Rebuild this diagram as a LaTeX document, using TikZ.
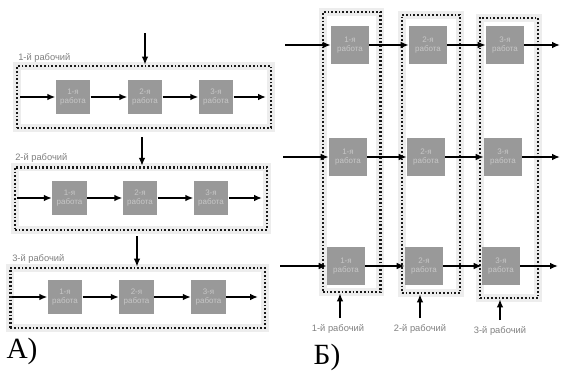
\documentclass[tikz,border=0pt]{standalone}
\usepackage{fontspec}
\setmainfont{Liberation Sans}
\newfontfamily\serifbig{Liberation Serif}
\usetikzlibrary{arrows.meta}
\begin{document}
\begin{tikzpicture}[x=0.75pt,y=-0.75pt,
  job/.style={fill=black!40, text=black!22, minimum width=26pt, minimum height=26pt,
    inner sep=0pt, align=center, font=\fontsize{6}{6.5}\selectfont},
  bjob/.style={job, minimum width=28.5pt, minimum height=29pt},
  frame/.style={draw=black!90, line width=2pt, dash pattern=on 1.3pt off 1.5pt,
    preaction={draw=black!7, line width=6pt, solid}, minimum width=#1},
  lab/.style={text=black!50, font=\fontsize{7}{8}\selectfont, inner sep=0pt},
  arr/.style={line width=1.2pt, -{Latex[length=6pt,width=5pt]}},
  big/.style={font=\serifbig\fontsize{22}{24}\selectfont, inner sep=0pt}]
\useasboundingbox (0,0) rectangle (562,376);

% ---------- A: row 1 ----------
\node[frame=190.5pt, minimum height=46.5pt] (f1) at (144,97) {};
\node[lab, anchor=west] (l1) at (18,58) {1-й рабочий};
\node[job] (a11) at (73,97) {1-я\\работа};
\node[job] (a12) at (145,97) {2-я\\работа};
\node[job] (a13) at (216,97) {3-я\\работа};
\coordinate (a1in) at (20,97);
\coordinate (a1out) at (266,97);
\coordinate (a1top) at (145,33);
\draw[arr] (a1top) -- (a1top |- f1.north);
\draw[arr] (a1in) -- (a11.west);
\draw[arr] (a11.east) -- (a12.west);
\draw[arr] (a12.east) -- (a13.west);
\draw[arr] (a13.east) -- (a1out);

% ---------- A: row 2 ----------
\node[frame=189pt, minimum height=47pt] (f2) at (141,198.5) {};
\node[lab, anchor=west] (l2) at (15,158) {2-й рабочий};
\node[job] (a21) at (69.5,198) {1-я\\работа};
\node[job] (a22) at (140,198) {2-я\\работа};
\node[job] (a23) at (211,198) {3-я\\работа};
\coordinate (a2in) at (17,198);
\coordinate (a2out) at (262,198);
\coordinate (a2top) at (142,137);
\draw[arr] (a2top) -- (a2top |- f2.north);
\draw[arr] (a2in) -- (a21.west);
\draw[arr] (a21.east) -- (a22.west);
\draw[arr] (a22.east) -- (a23.west);
\draw[arr] (a23.east) -- (a2out);

% ---------- A: row 3 ----------
\node[frame=191pt, minimum height=45pt] (f3) at (137.5,298) {};
\node[lab, anchor=west] (l3) at (12,259) {3-й рабочий};
\node[job] (a31) at (65,297) {1-я\\работа};
\node[job] (a32) at (136.5,297) {2-я\\работа};
\node[job] (a33) at (208.5,297) {3-я\\работа};
\coordinate (a3in) at (12,297);
\coordinate (a3out) at (258,297);
\coordinate (a3top) at (137,236);
\draw[arr] (a3top) -- (a3top |- f3.north);
\draw[arr] (a3in) -- (a31.west);
\draw[arr] (a31.east) -- (a32.west);
\draw[arr] (a32.east) -- (a33.west);
\draw[arr] (a33.east) -- (a3out);

\node[big] (A) at (22,351) {А)};

% ---------- B ----------
\node[frame=43pt, minimum height=210pt] (c1) at (351.5,152) {};
\node[frame=43.5pt, minimum height=208.5pt] (c2) at (431,154) {};
\node[frame=43.5pt, minimum height=210pt] (c3) at (509,158) {};

\node[bjob] (b11) at (350,45) {1-я\\работа};
\node[bjob] (b21) at (348,157) {1-я\\работа};
\node[bjob] (b31) at (346,266) {1-я\\работа};
\node[bjob] (b12) at (428,45) {2-я\\работа};
\node[bjob] (b22) at (426,157) {2-я\\работа};
\node[bjob] (b32) at (424,266) {2-я\\работа};
\node[bjob] (b13) at (505,45) {3-я\\работа};
\node[bjob] (b23) at (503,157) {3-я\\работа};
\node[bjob] (b33) at (501,266) {3-я\\работа};

\coordinate (b1in) at (285,45);
\coordinate (b2in) at (283,157);
\coordinate (b3in) at (280,266);
\coordinate (b1out) at (560,45);
\coordinate (b2out) at (560,157);
\coordinate (b3out) at (558,266);
\draw[arr] (b1in) -- (b11.west);
\draw[arr] (b11.east) -- (b12.west);
\draw[arr] (b12.east) -- (b13.west);
\draw[arr] (b13.east) -- (b1out);
\draw[arr] (b2in) -- (b21.west);
\draw[arr] (b21.east) -- (b22.west);
\draw[arr] (b22.east) -- (b23.west);
\draw[arr] (b23.east) -- (b2out);
\draw[arr] (b3in) -- (b31.west);
\draw[arr] (b31.east) -- (b32.west);
\draw[arr] (b32.east) -- (b33.west);
\draw[arr] (b33.east) -- (b3out);

\node[lab] (w1) at (338,329) {1-й рабочий};
\node[lab] (w2) at (420,329) {2-й рабочий};
\node[lab] (w3) at (500,331) {3-й рабочий};
\coordinate (u1) at (340,318);
\coordinate (u2) at (420,318);
\coordinate (u3) at (500,320);
\draw[arr] (u1) -- (u1 |- c1.south);
\draw[arr] (u2) -- (u2 |- c2.south);
\draw[arr] (u3) -- (u3 |- c3.south);

\node[big] (B) at (327,357) {Б)};
\end{tikzpicture}
\end{document}
